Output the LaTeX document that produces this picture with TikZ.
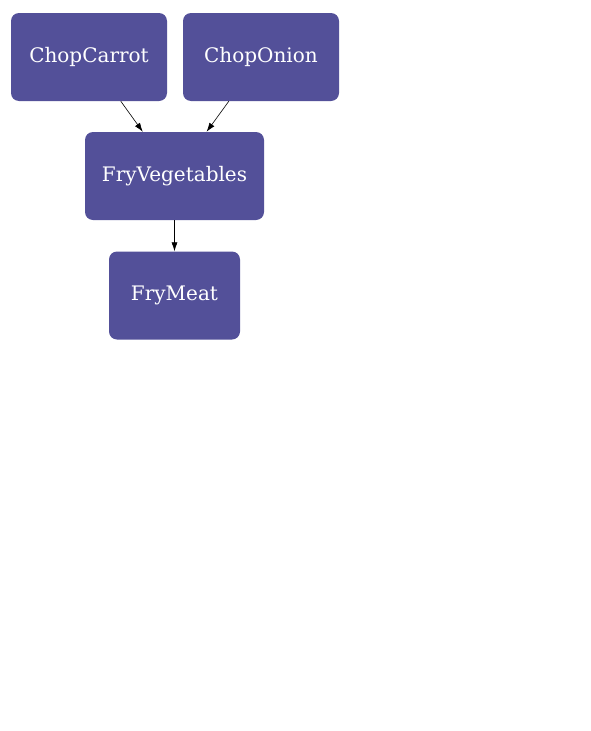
\documentclass[tikz,border=0pt]{standalone}
\usepackage{fontspec}
\setmainfont{DejaVu Serif}
\usetikzlibrary{arrows.meta}
\definecolor{boxfill}{RGB}{83,80,153}
\begin{document}
\begin{tikzpicture}[x=1pt,y=-1pt,
  task/.style={draw=none,fill=boxfill,rounded corners=8pt,text=white,
    minimum height=88pt,inner sep=0pt,font=\fontsize{20}{24}\selectfont},
  link/.style={-{Latex[length=9pt,width=6pt]},line width=0.6pt,black}]
\useasboundingbox (0,0) rectangle (590,731);
\node[task,minimum width=156pt] (cc) at (89,57) {ChopCarrot};
\node[task,minimum width=156pt] (co) at (261,57) {ChopOnion};
\node[task,minimum width=179pt] (fv) at (174.5,176) {FryVegetables};
\node[task,minimum width=131pt] (fm) at (174.5,295.5) {FryMeat};
\draw[link] (cc) -- (fv);
\draw[link] (co) -- (fv);
\draw[link] (fv) -- (fm);
\end{tikzpicture}
\end{document}
